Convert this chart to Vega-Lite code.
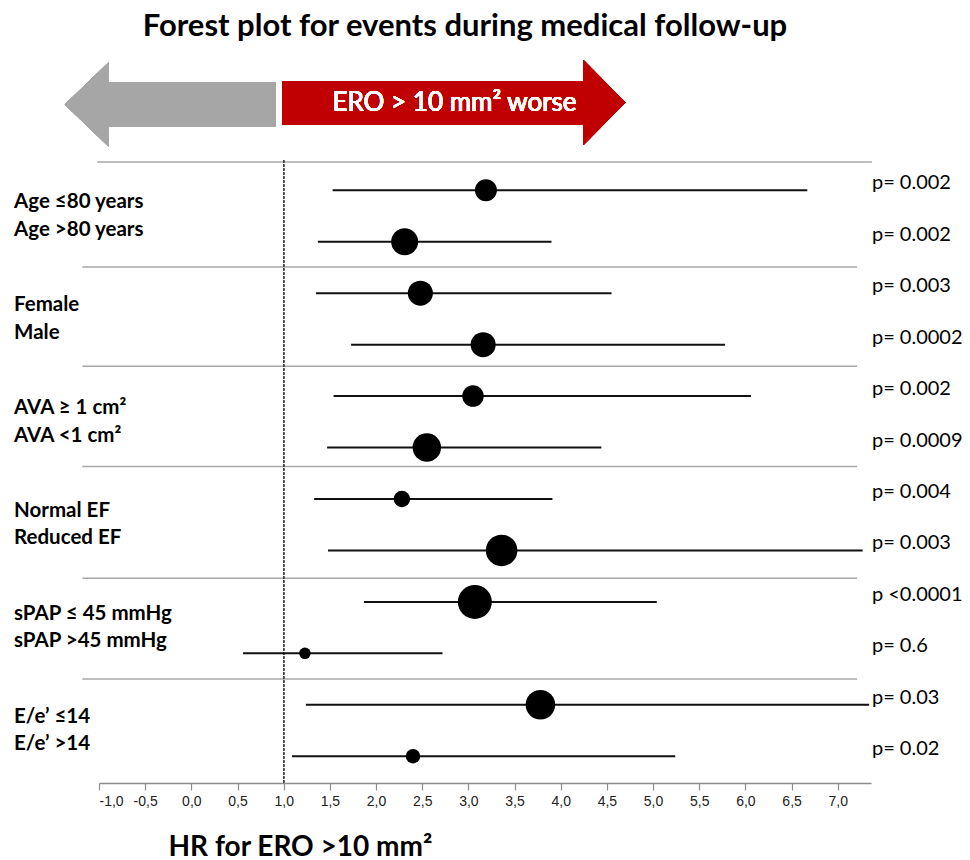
{
  "$schema": "https://vega.github.io/schema/vega-lite/v6.json",
  "width": 772,
  "height": 621,
  "autosize": {"type": "none"},
  "padding": {"left": 99, "top": 162, "right": 99, "bottom": 77},
  "background": "white",
  "title": {
    "text": "Forest plot for events during medical follow-up",
    "font": "Lato",
    "fontSize": 31,
    "fontWeight": "bold",
    "color": "black",
    "anchor": "middle",
    "offset": 17,
    "dx": -20
  },
  "config": {
    "view": {"stroke": null},
    "axisX": {
      "domainColor": "#8c8c8c",
      "domainWidth": 1.5,
      "tickColor": "#8c8c8c",
      "tickWidth": 1.2,
      "tickSize": 7,
      "labelFont": "Liberation Sans",
      "labelFontSize": 14,
      "labelColor": "#222222",
      "labelPadding": 4,
      "grid": false,
      "titleFont": "Lato",
      "titleFontSize": 28,
      "titleFontWeight": "bold",
      "titleColor": "black",
      "titleAlign": "left",
      "titleAnchor": "start",
      "titleX": 69,
      "titleY": 72,
      "titleBaseline": "alphabetic"
    }
  },
  "datasets": {
    "rows": [
      {"row": 1, "sub": 1, "label": "Age ≤80 years", "hr": 3.19, "lo": 1.53, "hi": 6.67, "p": "p= 0.002", "w": 484},
      {"row": 2, "sub": 2, "label": "Age >80 years", "hr": 2.31, "lo": 1.37, "hi": 3.90, "p": "p= 0.002", "w": 729},
      {"row": 3, "sub": 1, "label": "Female", "hr": 2.48, "lo": 1.35, "hi": 4.55, "p": "p= 0.003", "w": 625},
      {"row": 4, "sub": 2, "label": "Male", "hr": 3.16, "lo": 1.73, "hi": 5.78, "p": "p= 0.0002", "w": 625},
      {"row": 5, "sub": 1, "label": "AVA ≥ 1 cm²", "hr": 3.05, "lo": 1.54, "hi": 6.06, "p": "p= 0.002", "w": 462},
      {"row": 6, "sub": 2, "label": "AVA <1 cm²", "hr": 2.55, "lo": 1.47, "hi": 4.44, "p": "p= 0.0009", "w": 812},
      {"row": 7, "sub": 1, "label": "Normal EF", "hr": 2.28, "lo": 1.33, "hi": 3.91, "p": "p= 0.004", "w": 272},
      {"row": 8, "sub": 2, "label": "Reduced EF", "hr": 3.36, "lo": 1.48, "hi": 7.27, "p": "p= 0.003", "w": 992},
      {"row": 9, "sub": 1, "label": "sPAP ≤ 45 mmHg", "hr": 3.07, "lo": 1.87, "hi": 5.04, "p": "p <0.0001", "w": 1156},
      {"row": 10, "sub": 2, "label": "sPAP >45 mmHg", "hr": 1.23, "lo": 0.56, "hi": 2.72, "p": "p= 0.6", "w": 132},
      {"row": 11, "sub": 1, "label": "E/e’ ≤14", "hr": 3.78, "lo": 1.24, "hi": 7.34, "p": "p= 0.03", "w": 870},
      {"row": 12, "sub": 2, "label": "E/e’ >14", "hr": 2.40, "lo": 1.09, "hi": 5.24, "p": "p= 0.02", "w": 210}
    ],
    "seps": [
      {"y": 0.45, "x1": -1.02, "x2": 7.37},
      {"y": 2.49, "x1": -1.18, "x2": 7.21},
      {"y": 4.42, "x1": -1.18, "x2": 7.21},
      {"y": 6.37, "x1": -1.18, "x2": 7.21},
      {"y": 8.54, "x1": -1.18, "x2": 7.21},
      {"y": 10.5, "x1": -1.18, "x2": 7.21}
    ]
  },
  "layer": [
    {
      "data": {"name": "seps"},
      "mark": {"type": "rule", "color": "#a8a8a8", "strokeWidth": 1.5},
      "encoding": {
        "x": {"field": "x1", "type": "quantitative", "title": "HR for ERO >10 mm²", "scale": {"domain": [-1, 7.36], "nice": false, "zero": false}},
        "x2": {"field": "x2"},
        "y": {"field": "y", "type": "quantitative", "scale": {"domain": [0.45, 12.52], "reverse": true, "nice": false, "zero": false}, "axis": null}
      }
    },
    {
      "data": {"name": "rows"},
      "mark": {"type": "rule", "color": "#444444", "strokeWidth": 1, "strokeDash": [2, 2]},
      "encoding": {
        "x": {"datum": 1, "type": "quantitative", "title": "HR for ERO >10 mm²"},
        "y": {"datum": 0.42, "type": "quantitative"},
        "y2": {"datum": 12.52}
      }
    },
    {
      "data": {"name": "rows"},
      "mark": {"type": "rule", "color": "#111111", "strokeWidth": 2},
      "encoding": {
        "x": {
          "field": "lo", "type": "quantitative", "title": "HR for ERO >10 mm²",
          "axis": {
            "values": [-1, -0.5, 0, 0.5, 1, 1.5, 2, 2.5, 3, 3.5, 4, 4.5, 5, 5.5, 6, 6.5, 7],
            "labelExpr": "replace(replace(format(datum.value, '.1f'), '.', ','), '\u2212', '-')"
          }
        },
        "x2": {"field": "hi"},
        "y": {"field": "row", "type": "quantitative"}
      }
    },
    {
      "data": {"name": "rows"},
      "mark": {"type": "circle", "color": "black", "opacity": 1},
      "encoding": {
        "x": {"field": "hr", "type": "quantitative", "title": "HR for ERO >10 mm²"},
        "y": {"field": "row", "type": "quantitative"},
        "size": {"field": "w", "type": "quantitative", "scale": {"type": "linear", "domain": [0, 1156], "range": [0, 1156]}, "legend": null}
      }
    },
    {
      "data": {"name": "rows"},
      "transform": [{"filter": "datum.sub == 1"}],
      "mark": {"type": "text", "align": "left", "baseline": "middle", "dy": 12, "font": "Lato", "fontSize": 20.5, "fontWeight": "bold", "color": "black"},
      "encoding": {
        "x": {"datum": -1.92, "type": "quantitative", "title": "HR for ERO >10 mm²"},
        "y": {"field": "row", "type": "quantitative"},
        "text": {"field": "label"}
      }
    },
    {
      "data": {"name": "rows"},
      "transform": [{"filter": "datum.sub == 2"}],
      "mark": {"type": "text", "align": "left", "baseline": "middle", "dy": -12, "font": "Lato", "fontSize": 20.5, "fontWeight": "bold", "color": "black"},
      "encoding": {
        "x": {"datum": -1.92, "type": "quantitative", "title": "HR for ERO >10 mm²"},
        "y": {"field": "row", "type": "quantitative"},
        "text": {"field": "label"}
      }
    },
    {
      "data": {"name": "rows"},
      "mark": {"type": "text", "align": "left", "baseline": "middle", "dy": -7, "font": "Lato", "fontSize": 20, "color": "black"},
      "encoding": {
        "x": {"datum": 7.37, "type": "quantitative", "title": "HR for ERO >10 mm²"},
        "y": {"field": "row", "type": "quantitative"},
        "text": {"field": "p"}
      }
    },
    {
      "data": {"name": "rows"},
      "mark": {"type": "rect", "color": "#a6a6a6"},
      "encoding": {
        "x": {"datum": -0.9, "type": "quantitative", "title": "HR for ERO >10 mm²"},
        "x2": {"datum": 0.912},
        "y": {"datum": -1.095, "type": "quantitative"},
        "y2": {"datum": -0.239}
      }
    },
    {
      "data": {"name": "rows"},
      "mark": {"type": "rect", "color": "#c00000"},
      "encoding": {
        "x": {"datum": 0.984, "type": "quantitative", "title": "HR for ERO >10 mm²"},
        "x2": {"datum": 4.25},
        "y": {"datum": -1.115, "type": "quantitative"},
        "y2": {"datum": -0.278}
      }
    },
    {
      "data": {"name": "rows"},
      "mark": {"type": "point", "shape": "M0,-1L-1.04,0L0,1Z", "filled": true, "color": "#a6a6a6", "opacity": 1, "size": 7056, "strokeWidth": 0},
      "encoding": {
        "x": {"datum": -0.898, "type": "quantitative", "title": "HR for ERO >10 mm²"},
        "y": {"datum": -0.667, "type": "quantitative"}
      }
    },
    {
      "data": {"name": "rows"},
      "mark": {"type": "point", "shape": "M0,-1L0.988,0L0,1Z", "filled": true, "color": "#c00000", "opacity": 1, "size": 7225, "strokeWidth": 0},
      "encoding": {
        "x": {"datum": 4.246, "type": "quantitative", "title": "HR for ERO >10 mm²"},
        "y": {"datum": -0.708, "type": "quantitative"}
      }
    },
    {
      "data": {"name": "rows"},
      "mark": {"type": "text", "align": "center", "baseline": "middle", "font": "Lato", "fontSize": 26, "fontWeight": "normal", "color": "white"},
      "encoding": {
        "x": {"datum": 2.85, "type": "quantitative", "title": "HR for ERO >10 mm²"},
        "y": {"datum": -0.69, "type": "quantitative"},
        "text": {"value": "ERO > 10 mm² worse"}
      }
    }
  ]
}
